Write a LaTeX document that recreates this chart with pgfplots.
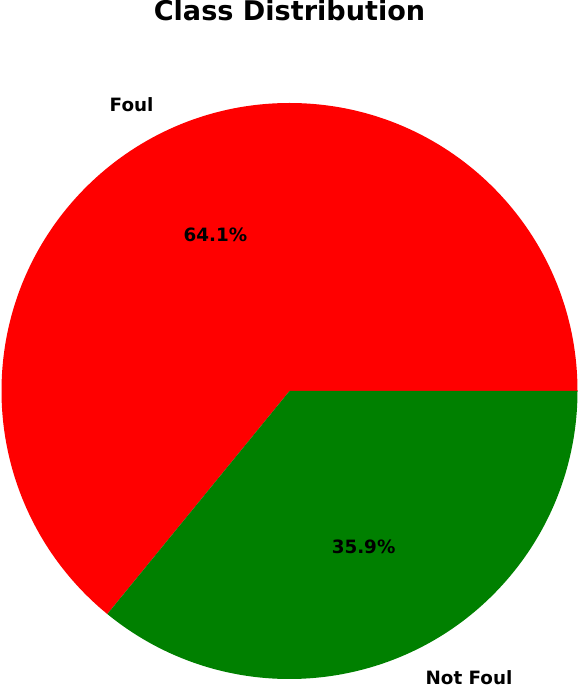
\documentclass[border=0pt]{standalone}
\usepackage{fontspec}
\setmainfont{DejaVu Sans}
\usepackage{pgfplots}
\usepackage{pgfplotstable}
\pgfplotsset{compat=1.18}

\definecolor{mplred}{RGB}{255,0,0}
\definecolor{mplgreen}{RGB}{0,128,0}

\pgfplotstableread{
label value
Foul 64.1
NotFoul 35.9
}\piedata

\begin{document}
\begin{tikzpicture}
\pgfplotstablegetelem{0}{value}\of\piedata \let\vA\pgfplotsretval
\pgfplotstablegetelem{1}{value}\of\piedata \let\vB\pgfplotsretval
\pgfmathsetmacro\angA{3.6*\vA}
\pgfmathsetmacro\midA{\angA/2}
\pgfmathsetmacro\midB{\angA+1.8*\vB}
% pie radius 288 px, 1 px = 0.72pt
\def\rad{207.36pt}
\def\rlab{228.1pt}
\def\rpct{124.4pt}
\tikzset{lab/.style={font=\fontsize{13.2}{15}\selectfont\bfseries, inner sep=0pt}}
\begin{axis}[
  x=0.72pt, y=0.72pt,
  xmin=0, xmax=579, ymin=0, ymax=685,
  scale only axis, hide axis, clip=false,
  /pgf/number format/assume math mode=true,
]
\coordinate (bl) at (axis cs:0,0);
\coordinate (tr) at (axis cs:579,685);
\fill[mplred] (axis cs:289.5,294) -- ++(0:\rad)
  arc[start angle=0, end angle=\angA, radius=\rad] -- cycle;
\fill[mplgreen] (axis cs:289.5,294) -- ++(\angA:\rad)
  arc[start angle=\angA, end angle=360, radius=\rad] -- cycle;
\path (axis cs:289.5,294) ++(\midA:\rlab) node[anchor=east, lab] {Foul};
\path (axis cs:289.5,294) ++(\midB:\rlab) node[anchor=west, lab] {Not Foul};
\path (axis cs:289.5,294) ++(\midA:\rpct)
  node[lab] {\pgfmathprintnumber[fixed,precision=1,fixed zerofill]{\vA}\%};
\path (axis cs:289.5,294) ++(\midB:\rpct)
  node[lab] {\pgfmathprintnumber[fixed,precision=1,fixed zerofill]{\vB}\%};
\node[anchor=base, font=\fontsize{19.5}{23}\selectfont\bfseries, inner sep=0pt]
  at (axis cs:289.5,664) {Class Distribution};
\end{axis}
\pgfresetboundingbox
\path[use as bounding box] (bl) rectangle (tr);
\end{tikzpicture}
\end{document}
